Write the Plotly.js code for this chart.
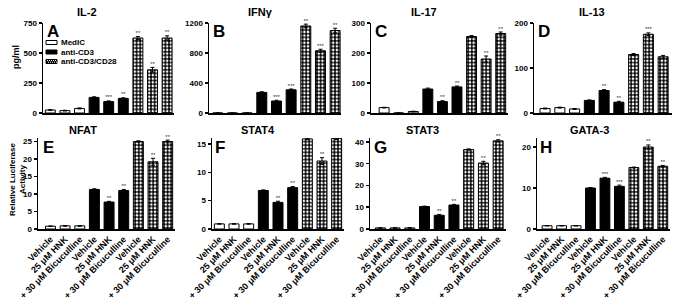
<!DOCTYPE html>
<html>
<head>
<meta charset="utf-8">
<script src="https://cdn.plot.ly/plotly-3.0.1.min.js"></script>
<style>html,body{margin:0;padding:0;background:#fff}#chart{width:682px;height:300px}</style>
</head>
<body>
<div id="chart"></div>
<script>
// ---------- DATA ----------
const groupNames = ["MedIC", "anti-CD3", "anti-CD3/CD28"];
const treatmentLabels = ["Vehicle", "25 μM HNK", "+ 30 μM Bicuculline",
                         "Vehicle", "25 μM HNK", "+ 30 μM Bicuculline",
                         "Vehicle", "25 μM HNK", "+ 30 μM Bicuculline"];
const panelTitles = ["IL-2", "IFNγ", "IL-17", "IL-13", "NFAT", "STAT4", "STAT3", "GATA-3"];
const panelLetters = ["A", "B", "C", "D", "E", "F", "G", "H"];

const il2Values   = [25, 20, 38, 130, 95, 122, 625, 360, 625];
const il2Errors   = [3, 3, 4, 5, 6, 5, 12, 20, 18];
const il2Sig      = ["", "", "", "", "***", "**", "**", "**", "**"];

const ifngValues  = [0, 0, 0, 275, 160, 310, 1160, 830, 1100];
const ifngErrors  = [0, 0, 0, 8, 10, 10, 25, 20, 30];
const ifngSig     = ["", "", "", "", "***", "***", "**", "***", "**"];

const il17Values  = [18, 0, 5, 80, 38, 87, 255, 180, 265];
const il17Errors  = [1, 0, 1, 3, 3, 3, 3, 10, 5];
const il17Sig     = ["", "", "", "", "**", "**", "", "**", "**"];

const il13Values  = [10, 12, 9, 28, 50, 24, 130, 175, 125];
const il13Errors  = [1, 1, 1, 1, 2, 2, 2, 3, 3];
const il13Sig     = ["", "", "", "", "**", "**", "", "***", ""];

const nfatValues  = [0.8, 0.9, 0.9, 11.3, 7.7, 11, 25, 19.2, 25];
const nfatErrors  = [0.05, 0.1, 0.1, 0.2, 0.2, 0.3, 0.2, 1, 0.4];
const nfatSig     = ["", "", "", "", "**", "**", "", "**", "**"];

const stat4Values = [0.9, 0.9, 0.9, 6.8, 4.7, 7.3, 15.9, 12, 16];
const stat4Errors = [0.05, 0.05, 0.05, 0.1, 0.2, 0.2, 0.1, 0.6, 0.2];
const stat4Sig    = ["", "", "", "", "**", "**", "", "**", "**"];

const stat3Values = [0.5, 0.5, 0.5, 10.3, 6.3, 11, 36.5, 30.3, 40.5];
const stat3Errors = [0.1, 0.1, 0.1, 0.2, 0.4, 0.3, 0.3, 0.8, 0.5];
const stat3Sig    = ["", "", "", "", "**", "**", "", "**", "**"];

const gata3Values = [0.8, 0.8, 0.8, 10, 12.4, 10.4, 15, 20, 15.3];
const gata3Errors = [0.05, 0.05, 0.05, 0.1, 0.2, 0.3, 0.1, 0.5, 0.2];
const gata3Sig    = ["", "", "", "", "***", "***", "", "**", "**"];

const yTitleTop = "pg/ml";
const yTitleBottom = "Relative Luciferase<br>Activity";

// ---------- LAYOUT CONFIG (pixels) ----------
const W = 682, H = 300;
const px = v => v / W;
const py = v => 1 - v / H;

const panelData = [
  [il2Values, il2Errors, il2Sig], [ifngValues, ifngErrors, ifngSig],
  [il17Values, il17Errors, il17Sig], [il13Values, il13Errors, il13Sig],
  [nfatValues, nfatErrors, nfatSig], [stat4Values, stat4Errors, stat4Sig],
  [stat3Values, stat3Errors, stat3Sig], [gata3Values, gata3Errors, gata3Sig]
];
const geom = [
  {x:[43,174.4], xr:[-0.5,8.5],  y:[23,113], yr:[0,750],  dt:250, tx:87,  ty:12,  lx:45,  ly:20},
  {x:[209,341],  xr:[-0.6,8.4],  y:[23,113], yr:[0,1200], dt:400, tx:260, ty:12,  lx:211, ly:20},
  {x:[371,508],  xr:[-0.9,8.5],  y:[23,113], yr:[0,300],  dt:100, tx:424, ty:12,  lx:373, ly:20},
  {x:[534,672],  xr:[-0.75,8.6], y:[23,113], yr:[0,200],  dt:100, tx:592, ty:12,  lx:536, ly:20},
  {x:[38,175],   xr:[-0.85,8.5], y:[138,229],yr:[0,26],   dt:5,   tx:83,  ty:130, lx:41,  ly:136},
  {x:[212,344],  xr:[-0.5,8.5],  y:[138,229],yr:[0,16.06],dt:5,   tx:258, ty:130, lx:213, ly:136},
  {x:[370,505.5],xr:[-0.7,8.5],  y:[138,229],yr:[0,41.8], dt:10,  tx:422, ty:130, lx:372, ly:136},
  {x:[537,670],  xr:[-0.7,8.5],  y:[138,229],yr:[0,22.2], dt:10,  tx:589, ty:130, lx:538, ly:136}
];

const FONT = "Liberation Sans, Arial, sans-serif";
const tickFont = {family: FONT, size: 8, color: "black", weight: "bold"};
const xTickFont = {family: FONT, size: 9, color: "black", weight: "bold"};
const barStyles = [
  {color: "white", line: {color: "black", width: 1}},
  {color: "black", line: {color: "black", width: 1}},
  {color: "black", line: {color: "black", width: 1},
   pattern: {shape: ".", fgcolor: "white", bgcolor: "black", size: 3.6, solidity: 0.38, fillmode: "replace"}}
];

const traces = [];
const layout = {
  width: W, height: H, margin: {l:0, r:0, t:0, b:0},
  paper_bgcolor: "white", plot_bgcolor: "white",
  barmode: "overlay", showlegend: false,
  font: {family: FONT, color: "black"},
  annotations: [], shapes: []
};

panelData.forEach((pd, i) => {
  const [vals, errs, sig] = pd;
  const g = geom[i];
  const n = i + 1;
  const xa = "x" + (n === 1 ? "" : n), ya = "y" + (n === 1 ? "" : n);
  const xk = "xaxis" + (n === 1 ? "" : n), yk = "yaxis" + (n === 1 ? "" : n);
  const bottom = i >= 4;
  const idxAll = vals.map((_, k) => k);
  groupNames.forEach((gn, gi) => {
    const idx = idxAll.filter(k => Math.floor(k / 3) === gi);
    traces.push({
      type: "bar", name: gn, x: idx, y: idx.map(k => vals[k]),
      xaxis: xa, yaxis: ya, width: 0.68, marker: barStyles[gi],
      error_y: {type: "data", array: idx.map(k => errs[k]), visible: true,
                color: "black", thickness: 1, width: 2},
      hoverinfo: "skip", showlegend: false
    });
  });
  traces.push({
    type: "scatter", mode: "text", x: idxAll, y: vals.map((v, k) => v + errs[k]),
    text: sig, textposition: "top center", cliponaxis: false,
    textfont: {family: FONT, size: 6, color: "#333"},
    xaxis: xa, yaxis: ya, hoverinfo: "skip", showlegend: false
  });
  layout[xk] = {
    domain: [px(g.x[0]), px(g.x[1])], range: g.xr, anchor: ya,
    showline: true, linewidth: 1.5, linecolor: "black", ticks: "",
    tickmode: "array", tickvals: idxAll, ticktext: treatmentLabels,
    showticklabels: bottom, tickangle: -45, tickfont: xTickFont,
    showgrid: false, zeroline: false, fixedrange: true
  };
  layout[yk] = {
    domain: [py(g.y[1]), py(g.y[0])], range: g.yr, anchor: xa,
    tick0: 0, dtick: g.dt, ticks: "outside", ticklen: 3, tickwidth: 1.5,
    tickcolor: "black", showline: true, linewidth: 1.5, linecolor: "black",
    tickfont: tickFont, showgrid: false, zeroline: false, fixedrange: true
  };
  layout.annotations.push({
    text: panelTitles[i], xref: "paper", yref: "paper", x: px(g.tx), y: py(g.ty),
    xanchor: "center", yanchor: "middle", showarrow: false,
    font: {family: FONT, size: 11, color: "black", weight: "bold"}
  });
  layout.annotations.push({
    text: panelLetters[i], xref: "paper", yref: "paper", x: px(g.lx), y: py(g.ly),
    xanchor: "left", yanchor: "top", showarrow: false,
    font: {family: FONT, size: 17, color: "black", weight: "bold"}
  });
});

// y-axis titles
layout.annotations.push({
  text: yTitleTop, xref: "paper", yref: "paper", x: px(16), y: py(57),
  textangle: -90, showarrow: false, xanchor: "center", yanchor: "middle",
  font: {family: FONT, size: 9, color: "black", weight: "bold"}
});
layout.annotations.push({
  text: yTitleBottom, xref: "paper", yref: "paper", x: px(17), y: py(180),
  textangle: -90, showarrow: false, xanchor: "center", yanchor: "middle",
  font: {family: FONT, size: 8, color: "black", weight: "bold"}
});

// manual legend in panel A
const legRows = [42.5, 52, 61.5];
const sx0 = 46, sx1 = 57, sh = 4;
groupNames.forEach((gn, gi) => {
  const yc = legRows[gi];
  layout.shapes.push({
    type: "rect", xref: "paper", yref: "paper",
    x0: px(sx0), x1: px(sx1), y0: py(yc + sh/2), y1: py(yc - sh/2),
    fillcolor: gi === 0 ? "white" : "black", line: {color: "black", width: 1}
  });
  if (gi === 2) {
    for (let r = 0; r < 2; r++) {
      for (let c = 0; c < 5; c++) {
        const hx = sx0 + 1 + c * 2 + (r % 2);
        const hy = yc - sh/2 + 0.6 + r * 1.6;
        layout.shapes.push({
          type: "rect", xref: "paper", yref: "paper",
          x0: px(hx), x1: px(hx + 1), y0: py(hy + 1), y1: py(hy),
          fillcolor: "white", line: {width: 0}
        });
      }
    }
  }
  layout.annotations.push({
    text: gn, xref: "paper", yref: "paper", x: px(59), y: py(yc),
    xanchor: "left", yanchor: "middle", showarrow: false,
    font: {family: FONT, size: 8, color: "black", weight: "bold"}
  });
});

Plotly.newPlot("chart", traces, layout, {staticPlot: true, displayModeBar: false});
</script>
</body>
</html>
